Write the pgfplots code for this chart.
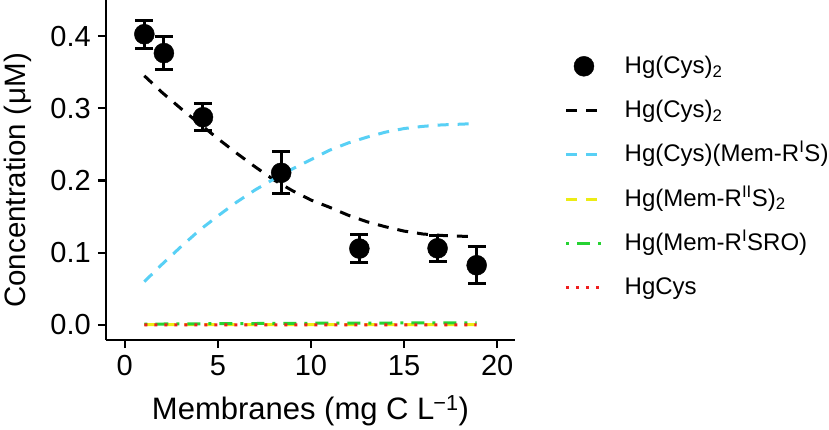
\documentclass[border=0pt]{standalone}
\usepackage{fontspec}
\setmainfont{Liberation Sans}
\usepackage{pgfplots}
\pgfplotsset{compat=1.18}
\definecolor{skyb}{RGB}{88,208,245}
\definecolor{yell}{RGB}{236,236,20}
\definecolor{grn}{RGB}{38,210,50}
\definecolor{rd}{RGB}{240,30,30}
\begin{document}
\begin{tikzpicture}[x=1pt,y=1pt]
\path[use as bounding box] (0,0) rectangle (829,429);
\begin{axis}[
  at={(106pt,89pt)}, anchor=south west,
  width=409pt, height=340pt, scale only axis,
  xmin=-1.01, xmax=20.96, ymin=-0.0208, ymax=0.450,
  axis lines=left,
  axis line style={-, line width=2.2pt, black},
  tick style={line width=2.2pt, black},
  tick align=outside, major tick length=8pt,
  xtick={0,5,10,15,20}, ytick={0,0.1,0.2,0.3,0.4},
  /pgf/number format/assume math mode=true,
  ticklabel style={font=\fontsize{29}{34}\selectfont, inner sep=0pt},
  xticklabel style={yshift=-7pt},
  yticklabel style={xshift=-7pt, /pgf/number format/.cd, fixed, fixed zerofill, precision=1},
  xlabel={Membranes (mg C L\kern-1pt\textsuperscript{−1})},
  ylabel={Concentration (\kern2ptμM)},
  xlabel style={font=\fontsize{31}{36}\selectfont, at={(axis description cs:0.5,-0.2338)}, anchor=base},
  ylabel style={font=\fontsize{29.5}{34}\selectfont, at={(axis description cs:-0.198,0.47)}, anchor=base},
  legend cell align=left,
  legend image code/.code={\draw[#1] (0pt,0pt) -- (35pt,0pt);},
  legend style={at={(axis description cs:1.1222,0.8403)}, anchor=north west,
    draw=none, fill=none, inner sep=0pt, outer sep=0pt,
    row sep=20.3pt, column sep=21.7pt,
    font=\fontsize{24}{29}\selectfont,
    nodes={inner sep=0pt, text height=19pt, text depth=5pt}},
]
\addlegendimage{legend image code/.code={\path[black, mark=*, mark size=10pt] plot coordinates {(17.5pt,0pt)};}}
\addlegendentry{Hg(Cys)\textsubscript{2}}
\addplot[only marks, mark=*, mark size=10pt, black, forget plot,
  error bars/.cd, y dir=both, y explicit,
  error bar style={line width=3pt, black},
  error mark options={rotate=90, mark size=9pt, line width=3pt, black}]
  coordinates {
  (1.05,0.4026) +- (0,0.0195)
  (2.1,0.3765) +- (0,0.0227)
  (4.2,0.2877) +- (0,0.0189)
  (8.4,0.2107) +- (0,0.0293)
  (12.6,0.1058) +- (0,0.0199)
  (16.8,0.1062) +- (0,0.0180)
  (18.9,0.0827) +- (0,0.0259)
  };
\addplot[black, line width=3pt, dash pattern=on 11pt off 9pt] coordinates {
  (1.05,0.345) (2,0.322) (3,0.300) (4,0.279) (5,0.258) (6,0.238) (7,0.219)
  (8,0.201) (9,0.186) (10,0.173) (11,0.163) (12,0.152) (13,0.143) (14,0.136)
  (15,0.130) (16,0.126) (17,0.124) (18,0.123) (18.9,0.122)};
\addlegendentry{Hg(Cys)\textsubscript{2}}
\addplot[skyb, line width=3pt, dash pattern=on 11pt off 9pt] coordinates {
  (1.05,0.060) (2,0.084) (3,0.108) (4,0.131) (5,0.151) (6,0.170) (7,0.187)
  (8,0.202) (9,0.216) (10,0.229) (11,0.242) (12,0.252) (13,0.260) (14,0.267)
  (15,0.272) (16,0.275) (17,0.277) (18,0.278) (18.9,0.279)};
\addlegendentry{Hg(Cys)(Mem-R\textsuperscript{I}S)}
\addplot[yell, line width=3pt, dash pattern=on 11pt off 9pt] coordinates {
  (1.05,0.0005) (5,0.0005) (10,0.0006) (15,0.0006) (18.9,0.0006)};
\addlegendentry{Hg(Mem-R\textsuperscript{II}S)\textsubscript{2}}
\addplot[grn, line width=3pt, dash pattern=on 3pt off 8pt on 13pt off 8pt] coordinates {
  (1.05,0.0012) (5,0.0018) (10,0.0024) (15,0.0028) (18.9,0.0030)};
\addlegendentry{Hg(Mem-R\textsuperscript{I}SRO)}
\addplot[rd, line width=3pt, dash pattern=on 3pt off 7pt] coordinates {
  (1.05,0.0000) (5,0.0000) (10,0.0001) (15,0.0001) (18.9,0.0002)};
\addlegendentry{HgCys}
\end{axis}
\end{tikzpicture}
\end{document}
